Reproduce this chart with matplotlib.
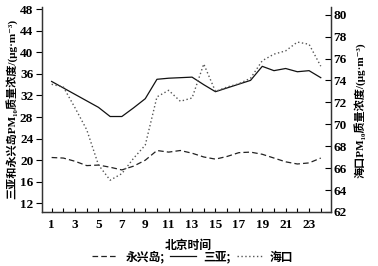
import matplotlib
matplotlib.use("Agg")
import matplotlib.pyplot as plt

hours = list(range(1, 25))
sanya = [34.6, 33.4, 32.2, 31.0, 29.8, 28.1, 28.1, 29.7, 31.4, 35.0, 35.2, 35.3,
         35.4, 34.0, 32.7, 33.4, 34.1, 34.8, 37.4, 36.6, 37.0, 36.4, 36.6, 35.3]
yongxing = [20.5, 20.4, 19.8, 19.0, 19.1, 18.7, 18.2, 18.9, 20.0, 21.8, 21.5, 21.8,
            21.3, 20.6, 20.2, 20.7, 21.4, 21.5, 21.1, 20.4, 19.7, 19.3, 19.5, 20.4]
haikou = [73.65, 73.4, 71.5, 69.5, 66.3, 64.9, 65.5, 66.9, 68.1, 72.5, 73.1, 72.1,
          72.4, 75.5, 73.0, 73.4, 73.7, 74.2, 75.8, 76.4, 76.7, 77.5, 77.3, 75.3]
xticks_labeled = list(range(1, 24, 2))
left_ticks = list(range(12, 49, 4))
right_ticks = list(range(62, 81, 2))

cjk = ['Noto Sans CJK SC', 'DejaVu Sans']
mixed = ['Liberation Serif', 'DejaVu Serif', 'Noto Sans CJK SC']
num_font = dict(family='Liberation Serif', weight='bold', size=9.5)

fig = plt.figure(figsize=(3.78, 2.66), dpi=100)
ax = fig.add_axes([0.1103, 1 - 212 / 266, 0.8749 - 0.1103, (212 - 7) / 266])
ax2 = ax.twinx()

l1, = ax.plot(hours, yongxing, color='#222222', lw=0.9, dashes=(4.5, 2.5))
l2, = ax.plot(hours, sanya, color='#111111', lw=0.9)
l3, = ax2.plot(hours, haikou, color='#555555', lw=1.0, dashes=(1, 1.8))

ax.set_xlim(0.15, 24.85)
ax.set_ylim(10.4, 48.4)
ax2.set_ylim(62, 80.7)

ax.set_xticks(hours)
ax.set_xticklabels([str(h) if h in xticks_labeled else '' for h in hours], fontdict=num_font)
ax.set_yticks(left_ticks)
ax.set_yticklabels([str(v) for v in left_ticks], fontdict=num_font)
ax2.set_yticks(right_ticks)
ax2.set_yticklabels([str(v) for v in right_ticks], fontdict=num_font)

ax.tick_params(axis='x', direction='in', length=3, width=0.8, pad=5)
ax.tick_params(axis='y', direction='out', length=4, width=0.8, pad=2)
ax2.tick_params(axis='y', direction='in', length=4, width=0.8, pad=2)

for a in (ax, ax2):
    a.spines['top'].set_visible(False)
    for s in ('left', 'right', 'bottom'):
        a.spines[s].set_linewidth(0.9)
        a.spines[s].set_color('#333333')

fig.text(0.032, 0.59, '三亚和永兴岛PM₁₀质量浓度/(μg·m⁻³)', rotation=90,
         ha='center', va='center', family=mixed, weight='bold', fontsize=8)
fig.text(0.955, 0.585, '海口PM₁₀质量浓度/(μg·m⁻³)', rotation=90,
         ha='center', va='center', family=mixed, weight='bold', fontsize=8)
fig.text(0.497, 1 - 245 / 266, '北京时间', ha='center', va='center',
         family=cjk, weight='bold', fontsize=8.5)

leg = fig.legend([l1, l2, l3], ['永兴岛;', '三亚;', '海口'], loc='center',
                 bbox_to_anchor=(0.51, 1 - 257 / 266), ncol=3, frameon=False,
                 handlelength=2.2, handletextpad=0.6, columnspacing=0.5,
                 prop={'family': cjk, 'weight': 'bold', 'size': 8.5})

fig.savefig('out.png', dpi=100)
